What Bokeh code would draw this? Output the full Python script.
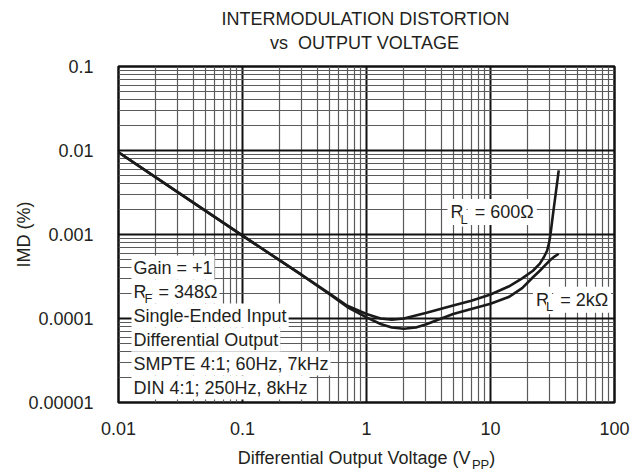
from bokeh.plotting import figure
from bokeh.layouts import column
from bokeh.models import Range1d, FixedTicker, Label, CustomJSTickFormatter
from bokeh.core.properties import value
from bokeh.embed import file_html
from bokeh.resources import INLINE

# ---------------- data ----------------
title_lines = ["INTERMODULATION DISTORTION", "vs \u00a0OUTPUT VOLTAGE"]

x_ticks = [0.01, 0.1, 1, 10, 100]
x_tick_labels = ["0.01", "0.1", "1", "10", "100"]
y_ticks = [0.00001, 0.0001, 0.001, 0.01, 0.1]
y_tick_labels = ["0.00001", "0.0001", "0.001", "0.01", "0.1"]

x_label = [("Differential Output Voltage (V", False), ("PP", True), (")", False)]
y_label = "IMD (%)"

v_600 = [0.01, 0.03, 0.1, 0.3, 0.5, 0.7, 1.0, 1.3, 1.6, 2.0, 3.0, 5.0, 7.0, 10.0,
         14.0, 18.0, 22.0, 25.0, 27.0, 28.6, 29.7, 30.5, 32.0, 33.5, 35.5]
imd_600 = [0.0095, 0.0032, 0.00097, 0.00033, 0.0002, 0.000142, 0.000113, 0.0001,
           0.0000965, 0.0001, 0.000116, 0.000143, 0.000163, 0.000193, 0.00024,
           0.0003, 0.00037, 0.00045, 0.00054, 0.00064, 0.0008, 0.00102, 0.0018,
           0.003, 0.0058]

v_2k = [0.01, 0.03, 0.1, 0.3, 0.5, 0.7, 1.0, 1.3, 1.6, 2.0, 2.5, 3.0, 5.0, 7.0,
        10.0, 14.0, 18.0, 22.0, 25.0, 28.0, 30.5, 33.0, 35.5]
imd_2k = [0.0095, 0.0032, 0.00097, 0.00033, 0.000196, 0.000137, 0.000103, 0.000086,
          0.000078, 0.0000755, 0.000078, 0.000085, 0.000113, 0.00013, 0.00015,
          0.00018, 0.00023, 0.00031, 0.00037, 0.00044, 0.0005, 0.00055, 0.00059]

label_600 = [("R", False), ("L", True), (" = 600\u03a9", False)]
label_2k = [("R", False), ("L", True), (" = 2k\u03a9", False)]
label_600_pos = (4.5, 0.00185)
label_2k_pos = (22.0, 0.000167)

notes = [
    [("Gain = +1", False)],
    [("R", False), ("F", True), (" = 348\u03a9", False)],
    [("Single-Ended Input", False)],
    [("Differential Output", False)],
    [("SMPTE 4:1; 60Hz, 7kHz", False)],
    [("DIN 4:1; 250Hz, 8kHz", False)],
]

# ---------------- style ----------------
FONT = "Liberation Sans"
FS = 18
SUB_FS = 13
SUB_DROP = 7
INK = "#231f20"
WIDTH = 640
LEFT, RIGHT = 118, 26

W = {' ': 278, '\u00a0': 278, '+': 584, '=': 584, '(': 333, ')': 333, '-': 333,
     '.': 278, ',': 278, ':': 278, ';': 278, '%': 889, '\u03a9': 768,
     'A': 667, 'B': 667, 'C': 722, 'D': 722, 'E': 667, 'F': 611, 'G': 778, 'H': 722,
     'I': 278, 'K': 667, 'L': 556, 'M': 833, 'N': 722, 'O': 778, 'P': 667, 'R': 722,
     'S': 667, 'T': 611, 'U': 722, 'V': 667, 'a': 556, 'd': 556, 'e': 556, 'f': 278,
     'g': 556, 'i': 222, 'k': 500, 'l': 222, 'n': 556, 'o': 556, 'p': 556, 'r': 333,
     's': 500, 't': 278, 'u': 556, 'z': 500}


def tw(s, size):
    return sum(W.get(c, 556) for c in s) * size / 1000.0


def split_lead(t, size):
    """SVG drops leading blanks: turn them into an offset instead."""
    s = t.lstrip(" ")
    return s, tw(t[:len(t) - len(s)], size)


def text_strip(height):
    f = figure(width=WIDTH, height=height, x_axis_type="log",
               x_range=Range1d(0.01, 100), y_range=Range1d(0, height),
               x_axis_location=None, y_axis_location=None, title=None,
               output_backend="svg", toolbar_location=None,
               min_border=0, min_border_left=LEFT, min_border_right=RIGHT)
    f.grid.visible = False
    f.outline_line_color = None
    f.background_fill_color = "white"
    f.border_fill_color = "white"
    return f


def strip_pieces(f, pieces, y):
    total = sum(tw(t, SUB_FS if sub else FS) for t, sub in pieces)
    off = -total / 2.0
    for t, sub in pieces:
        size = SUB_FS if sub else FS
        s, lead = split_lead(t, size)
        f.text(x=[1], y=[y - (SUB_DROP if sub else 0)], text=[s], x_offset=off + lead,
               text_font=value(FONT), text_font_size=value(f"{size}px"),
               text_color=INK, text_align="left", text_baseline="middle")
        off += tw(t, size)


# ---------------- title strip ----------------
TH = 54
pt = text_strip(TH)
for line, y_from_top in zip(title_lines, (18, 42)):
    strip_pieces(pt, [(line, False)], TH - y_from_top)

# ---------------- main chart ----------------
p = figure(width=WIDTH, height=392, x_axis_type="log", y_axis_type="log",
           x_range=Range1d(0.01, 100), y_range=Range1d(0.00001, 0.1),
           output_backend="svg", toolbar_location=None, title=None,
           min_border_left=LEFT, min_border_right=RIGHT, min_border_top=12,
           min_border_bottom=44)
p.background_fill_color = "white"
p.border_fill_color = "white"
p.outline_line_color = "#111111"
p.outline_line_width = 2.5

fmt_code = """
let best = 0, bd = 1e9;
for (let i = 0; i < tv.length; i++) {
  const d = Math.abs(Math.log10(tv[i]) - Math.log10(tick));
  if (d < bd) { bd = d; best = i; }
}
return bd < 1e-6 ? tl[best] : "";
"""

for ax, ticks, labels, standoff in ((p.xaxis[0], x_ticks, x_tick_labels, 13),
                                     (p.yaxis[0], y_ticks, y_tick_labels, 19)):
    ax.ticker = FixedTicker(ticks=ticks)
    ax.formatter = CustomJSTickFormatter(args=dict(tv=ticks, tl=labels), code=fmt_code)
    ax.axis_line_color = None
    ax.major_tick_line_color = None
    ax.minor_tick_line_color = None
    ax.major_label_text_font = FONT
    ax.major_label_text_font_size = f"{FS}px"
    ax.major_label_text_color = INK
    ax.major_label_standoff = standoff

p.yaxis.axis_label = y_label
p.yaxis.axis_label_text_font = FONT
p.yaxis.axis_label_text_font_size = f"{FS}px"
p.yaxis.axis_label_text_font_style = "normal"
p.yaxis.axis_label_text_color = INK
p.yaxis.axis_label_standoff = -9

x_minor = [d * k for d in x_ticks[:-1] for k in range(2, 10)]
y_minor = [d * k for d in y_ticks[:-1] for k in range(2, 10)]
for g, ticks, minor in ((p.xgrid[0], x_ticks, x_minor), (p.ygrid[0], y_ticks, y_minor)):
    g.ticker = FixedTicker(ticks=ticks, minor_ticks=minor)
    g.grid_line_color = "#111111"
    g.grid_line_width = 2
    g.grid_line_alpha = 1
    g.minor_grid_line_color = "#5a5a5a"
    g.minor_grid_line_width = 1.2

p.line(v_600, imd_600, line_width=2.6, line_color="#1a1a1a")
p.line(v_2k, imd_2k, line_width=2.6, line_color="#1a1a1a")


def add_pieces(pieces, x, y, x_off, y_off, pad=2):
    off = x_off
    subs = []
    for t, sub in pieces:
        size = SUB_FS if sub else FS
        s, lead = split_lead(t, size)
        if lead:
            lead *= 0.8
            p.add_layout(Label(x=x, y=y, x_offset=off, y_offset=y_off, text="\u00a0",
                               text_font=FONT, text_font_size=f"{size}px",
                               text_color=INK, text_align="left", text_baseline="middle",
                               background_fill_color="white", padding=pad))
        lab = Label(x=x, y=y, x_offset=off + lead,
                    y_offset=y_off - (SUB_DROP if sub else 0),
                    text=s, text_font=FONT, text_font_size=f"{size}px",
                    text_color=INK, text_align="left", text_baseline="middle",
                    background_fill_color="white", padding=0 if sub else pad)
        if sub:
            subs.append(lab)
        else:
            p.add_layout(lab)
        off += lead + tw(s, size)
    # subscripts last, with tight boxes, so nothing hides the letters beside them
    for lab in subs:
        p.add_layout(lab)


add_pieces(label_600, label_600_pos[0], label_600_pos[1], 0, 0, pad=3)
add_pieces(label_2k, label_2k_pos[0], label_2k_pos[1], 0, 0, pad=3)

for i, line in enumerate(notes):
    add_pieces(line, 0.01, 0.00001, 13, 135 - i * 24, pad=2)

# ---------------- x-axis title strip ----------------
XH = 26
px_ = text_strip(XH)
strip_pieces(px_, x_label, XH - 11)

layout = column(pt, p, px_, spacing=0)
open("out.html", "w").write(file_html(layout, INLINE))
